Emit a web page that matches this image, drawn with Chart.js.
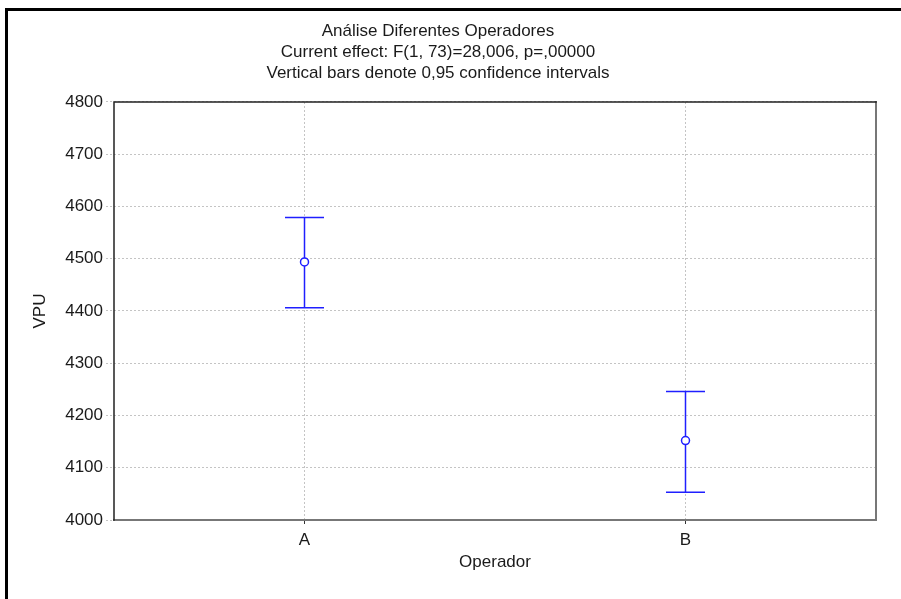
<!DOCTYPE html>
<html>
<head>
<meta charset="utf-8">
<script src="https://cdn.jsdelivr.net/npm/chart.js@4/dist/chart.umd.min.js"></script>
<style>
  html, body { margin: 0; padding: 0; background: #fff; }
  canvas { display: block; }
</style>
</head>
<body>
<canvas id="chart" width="901" height="599"></canvas>
<script>
const operators = ['A', 'B'];
const means = [4494, 4152];
const lower = [4406, 4053];
const upper = [4579, 4246];
const yTicks = [4000, 4100, 4200, 4300, 4400, 4500, 4600, 4700, 4800];
const titleLines = [
  'Análise Diferentes Operadores',
  'Current effect: F(1, 73)=28,006, p=,00000',
  'Vertical bars denote 0,95 confidence intervals'
];

const blue = '#1f1fff';
const font = { family: '"Liberation Sans", Arial, sans-serif', size: 17 };
Chart.defaults.font.family = font.family;
Chart.defaults.color = '#1a1a1a';

// one little line dataset per category: vertical whisker with caps
const errorSets = operators.map((op, i) => ({
  data: [{ x: op, y: lower[i] }, { x: op, y: upper[i] }],
  borderColor: blue,
  borderWidth: 1.5,
  pointStyle: 'line',
  pointRadius: 19.5,
  pointBorderColor: blue,
  pointBorderWidth: 1.5,
  order: 2
}));

const frame = {
  id: 'frame',
  afterDraw(chart) {
    const { ctx, chartArea: a, width, height } = chart;
    ctx.save();
    ctx.lineCap = 'square';
    ctx.strokeStyle = '#777';
    ctx.lineWidth = 2;
    ctx.beginPath();
    ctx.moveTo(a.right, a.top);
    ctx.lineTo(a.right, a.bottom);
    ctx.lineTo(a.left, a.bottom);
    ctx.stroke();
    ctx.strokeStyle = '#222';
    ctx.lineWidth = 1.5;
    ctx.beginPath();
    ctx.moveTo(a.left, a.bottom);
    ctx.lineTo(a.left, a.top);
    ctx.lineTo(a.right, a.top);
    ctx.stroke();
    // outer picture border (left and top only, the rest is cropped)
    ctx.strokeStyle = '#000';
    ctx.lineWidth = 3;
    ctx.beginPath();
    ctx.moveTo(6.5, height);
    ctx.lineTo(6.5, 9.5);
    ctx.lineTo(width, 9.5);
    ctx.stroke();
    ctx.restore();
  }
};

new Chart(document.getElementById('chart'), {
  type: 'line',
  data: {
    labels: operators,
    datasets: [
      {
        data: means,
        showLine: false,
        pointStyle: 'circle',
        pointRadius: 4,
        pointBackgroundColor: '#fff',
        pointBorderColor: blue,
        pointBorderWidth: 1.5,
        order: 1
      },
      ...errorSets
    ]
  },
  options: {
    responsive: false,
    animation: false,
    events: [],
    layout: { padding: { left: 0, right: 25, top: 21, bottom: 0 } },
    plugins: {
      legend: { display: false },
      tooltip: { enabled: false },
      title: {
        display: true,
        text: titleLines,
        font: { ...font, weight: 'normal', lineHeight: 1.235 },
        color: '#1a1a1a',
        padding: { top: 0, bottom: 18 }
      }
    },
    scales: {
      x: {
        type: 'category',
        offset: true,
        grid: {
          offset: false,
          color: '#c4c4c4',
          tickColor: '#333',
          tickLength: 4,
          tickBorderDash: []
        },
        border: { display: false, dash: [2, 2] },
        ticks: { font, color: '#1a1a1a', padding: 6 },
        title: { display: true, text: 'Operador', font, color: '#1a1a1a', padding: { top: 0, bottom: 26 } },
        afterFit(scale) { scale.height = 79; }
      },
      y: {
        min: yTicks[0],
        max: yTicks[yTicks.length - 1],
        afterBuildTicks(scale) { scale.ticks = yTicks.map(v => ({ value: v })); },
        grid: {
          color: '#c4c4c4',
          tickColor: '#c4c4c4',
          tickLength: 8,
          tickBorderDash: [2, 2]
        },
        border: { display: false, dash: [2, 2] },
        ticks: { font, color: '#1a1a1a', padding: 3, callback: v => String(v) },
        title: { display: true, text: 'VPU', font, color: '#1a1a1a', padding: { top: 30, bottom: 0 } },
        afterFit(scale) { scale.width = 114; }
      }
    }
  },
  plugins: [frame]
});
</script>
</body>
</html>
